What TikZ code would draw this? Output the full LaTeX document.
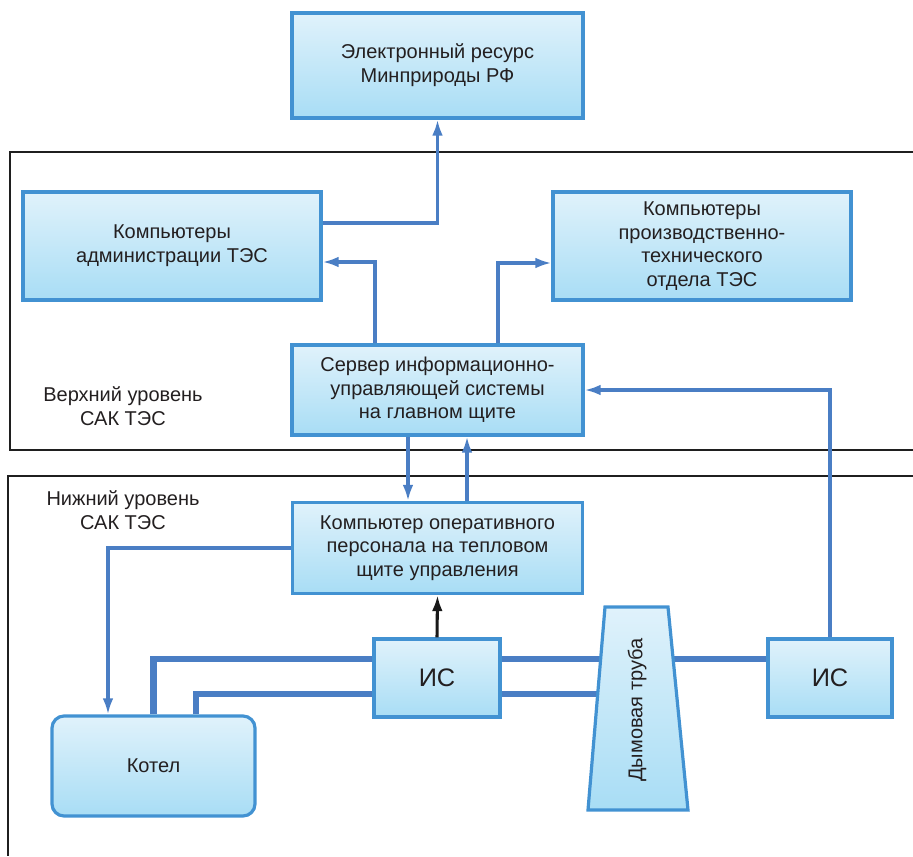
\documentclass[tikz,border=0pt]{standalone}
\usepackage{fontspec}
\setmainfont{Liberation Sans}
\usetikzlibrary{arrows.meta, calc, backgrounds}
\definecolor{boxedge}{RGB}{66,146,210}
\definecolor{boxtop}{RGB}{224,242,251}
\definecolor{boxbot}{RGB}{168,221,245}
\definecolor{linkblue}{RGB}{74,126,196}
\definecolor{txt}{RGB}{35,31,32}
\tikzset{
  block/.style={draw=boxedge, line width=2.4pt, top color=boxtop, bottom color=boxbot,
    inner sep=0pt, align=center, text=txt, font=\fontsize{15}{17.8}\selectfont},
  link/.style={draw=linkblue, line width=2.3pt, -{Latex[length=12pt,width=8pt]}},
  pipe/.style={draw=linkblue, line width=5pt},
  frameline/.style={draw=black!88, line width=2.2pt},
  label/.style={align=center, text=txt, font=\fontsize{15}{17.8}\selectfont},
}

\begin{document}
\begin{tikzpicture}[x=0.75pt,y=0.75pt,yscale=-1,xscale=1]
\useasboundingbox (0,0) rectangle (913,856);

% Frames
\draw[frameline] (913,152) -- (10,152) -- (10,450) -- (913,450);
\draw[frameline] (913,476) -- (8,476) -- (8,856);

% Text Node
\node[label] (upper) at (123,406) {Верхний уровень\\САК ТЭС};
% Text Node
\node[label] (lower) at (123,510) {Нижний уровень\\САК ТЭС};

% Blocks
\node[block, minimum width=218.25pt, minimum height=78.75pt] (res) at (437.5,65.5) {Электронный ресурс\\Минприроды РФ};
\node[block, minimum width=223.5pt, minimum height=81pt] (admin) at (172,246) {Компьютеры\\администрации ТЭС};
\node[block, minimum width=223.5pt, minimum height=81pt] (pto) at (702,246) {Компьютеры\\производственно-\\технического\\отдела ТЭС};
\node[block, minimum width=218.25pt, minimum height=67.5pt] (server) at (437.5,390) {Сервер информационно-\\управляющей системы\\на главном щите};
\node[block, minimum width=217.5pt, minimum height=68.25pt] (oper) at (437.5,548) {Компьютер оперативного\\персонала на тепловом\\щите управления};
\node[block, minimum width=94.5pt, minimum height=58.5pt, font=\fontsize{19}{22}\selectfont] (is1) at (437,678) {ИС};
\node[block, minimum width=93pt, minimum height=58.5pt, font=\fontsize{19}{22}\selectfont] (is2) at (830,678) {ИС};
\node[block, minimum width=152.25pt, minimum height=75pt, rounded corners=9pt] (kotel) at (153.5,766) {Котел};

% Chimney
\shade[draw=boxedge, line width=2.4pt, top color=boxtop, bottom color=boxbot]
  (605,607) -- (668,607) -- (688,810) -- (588,810) -- cycle;
\node[label, rotate=90] (chimney) at (637,710) {Дымовая труба};

% Pipes
\begin{scope}[on background layer]
\draw[pipe] (kotel.north) |- ($(is1.west)+(0,-19)$);
\draw[pipe] ($(is1.east)+(0,-19)$) -- ($(is2.west)+(0,-19)$);
\draw[pipe] ($(kotel.north)+(42.5,0)$) |- ($(is1.west)+(0,16)$);
\draw[pipe] ($(is1.east)+(0,16)$) -| (chimney);
\end{scope}

% Connection
\draw[link] ($(admin.east)+(0,-23)$) -| (res.south);
% Connection
\draw[link] ($(server.north)+(-62.5,0)$) |- ($(admin.east)+(0,16)$);
% Connection
\draw[link] ($(server.north)+(60.5,0)$) |- ($(pto.west)+(0,17)$);
% Connection
\draw[link] (is2.north) |- (server.east);
% Connection
\draw[link] ($(server.south)+(-29.5,0)$) -- ($(oper.north)+(-29.5,0)$);
% Connection
\draw[link] ($(oper.north)+(29.5,0)$) -- ($(server.south)+(29.5,0)$);
% Connection
\draw[link] (oper.west) -| ($(kotel.north)+(-45.5,0)$);
% Connection
\draw[link, draw=black!90] (is1.north) -- (oper.south);

\end{tikzpicture}
\end{document}
